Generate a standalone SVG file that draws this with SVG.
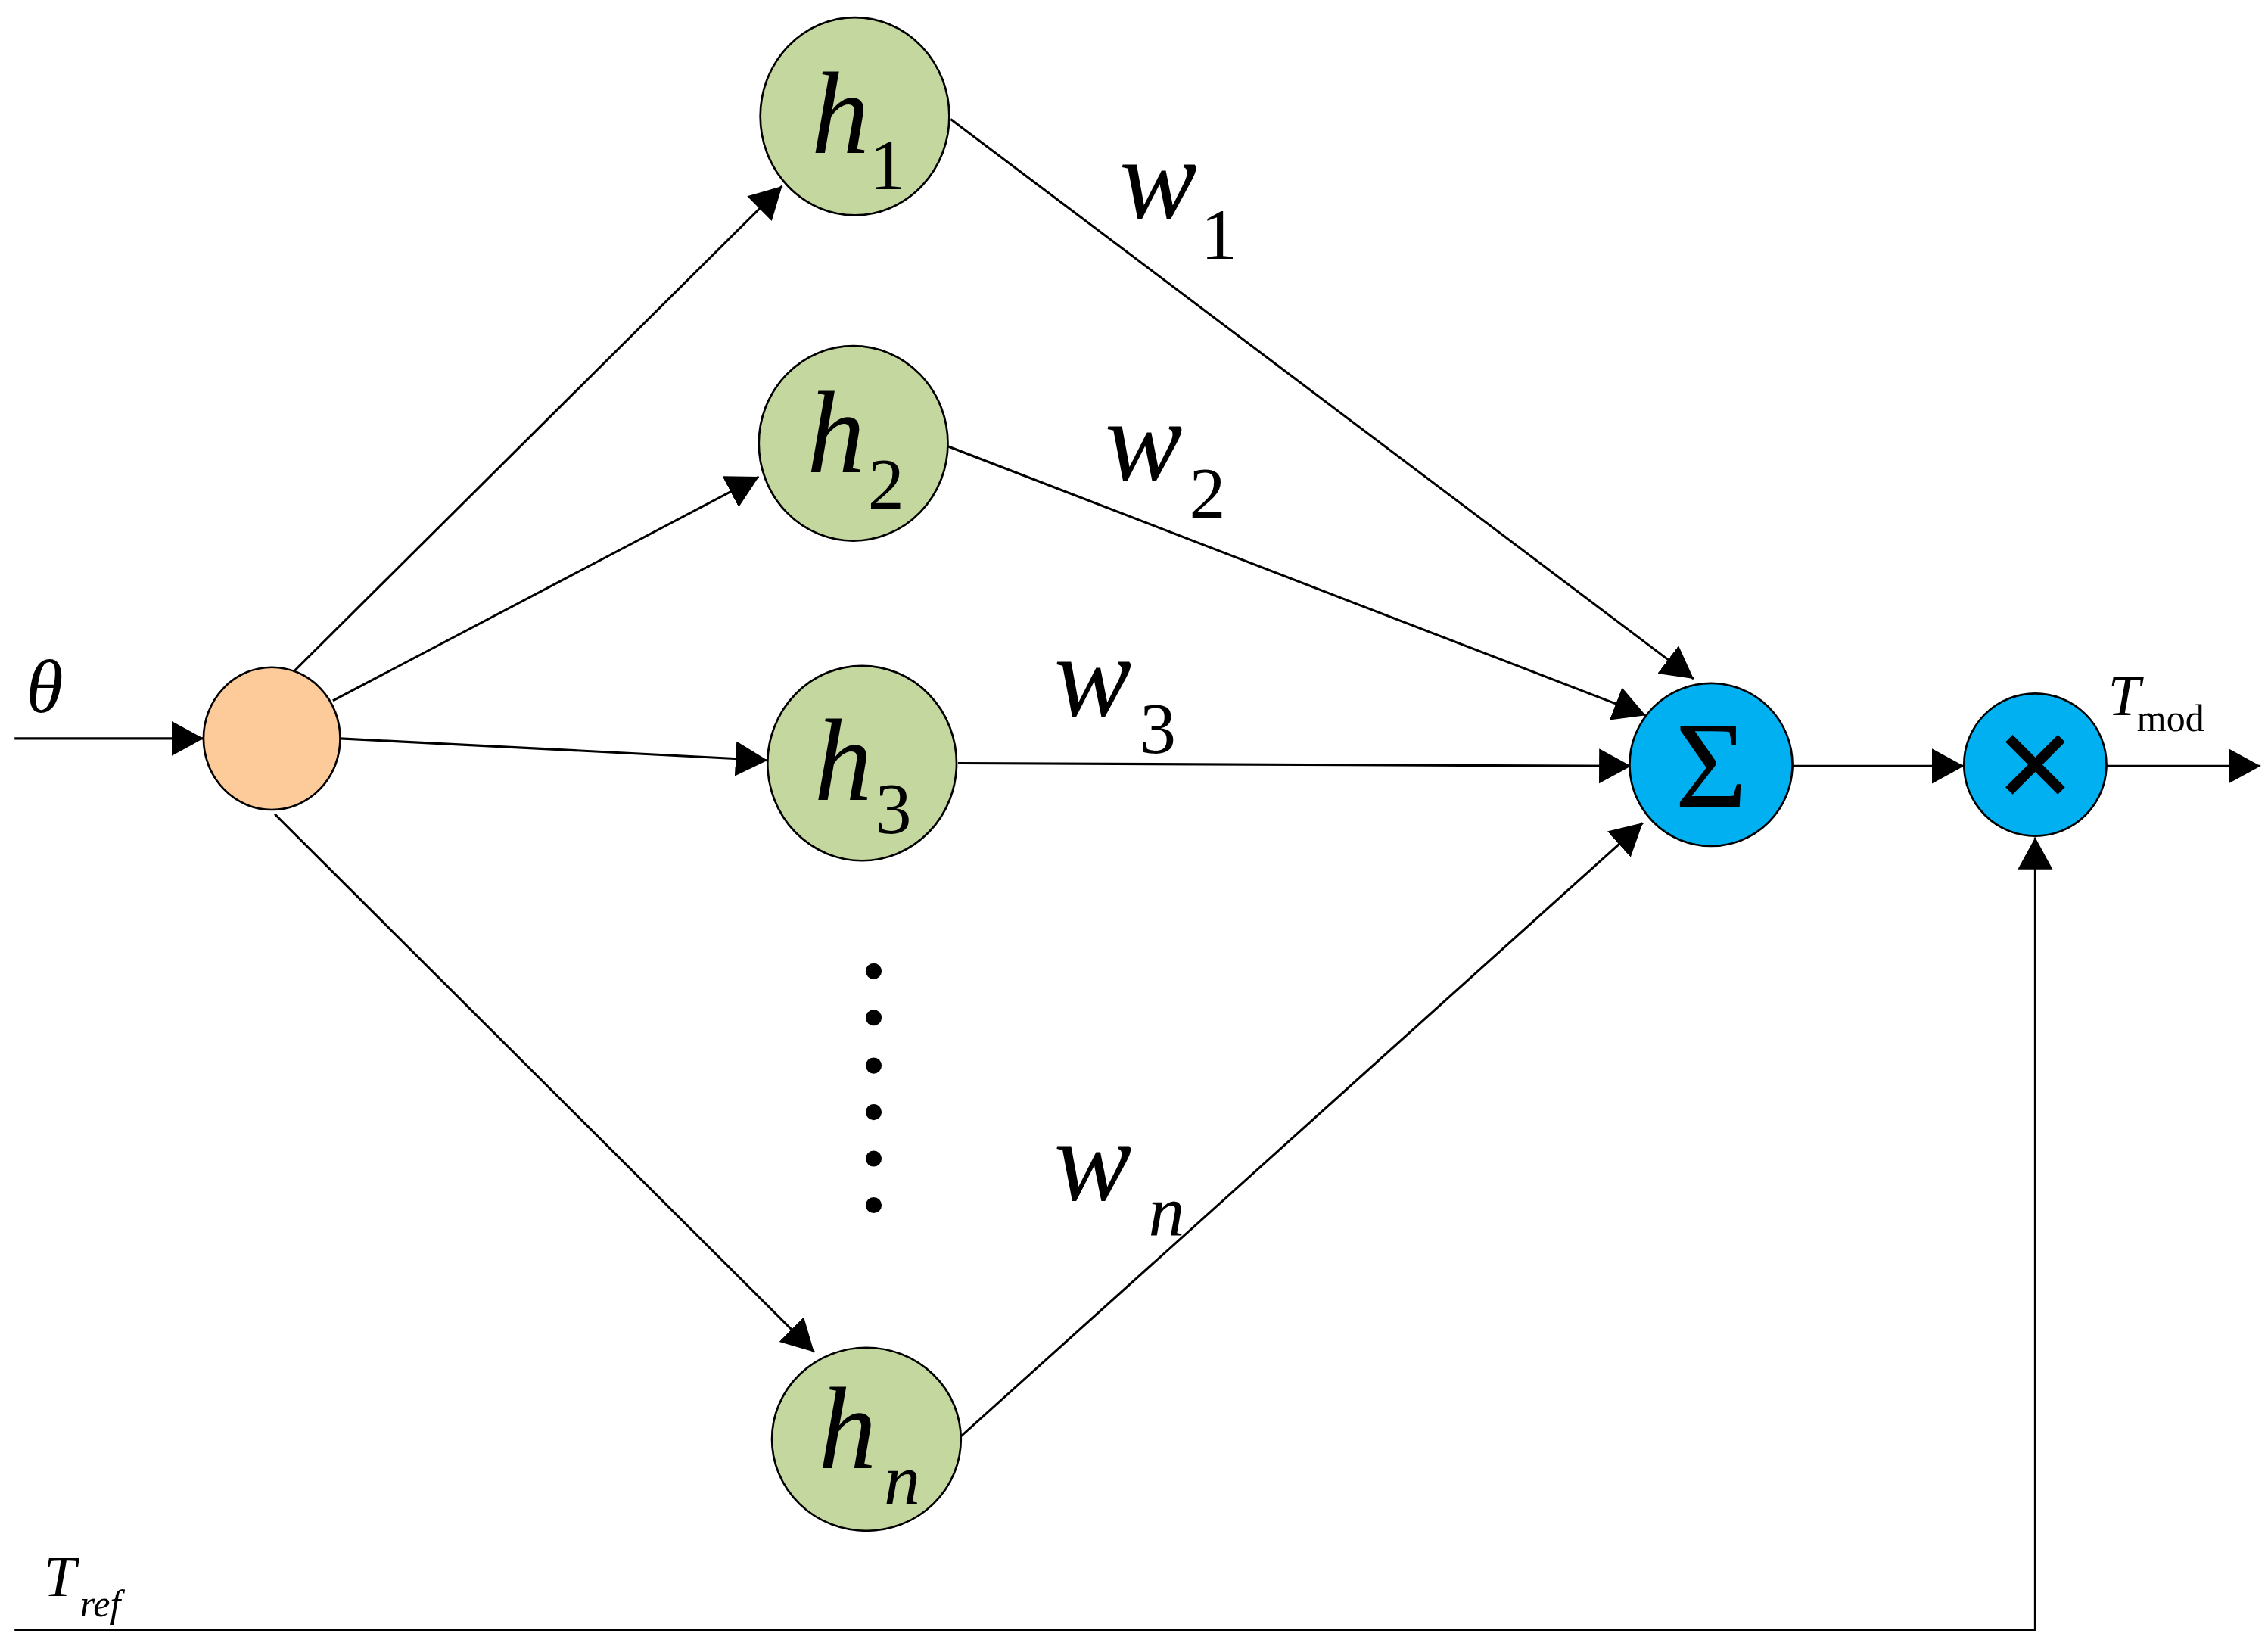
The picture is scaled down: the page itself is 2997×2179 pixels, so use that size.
<svg xmlns="http://www.w3.org/2000/svg" width="2997" height="2179" viewBox="0 0 2997 2179">
<defs>
<marker id="a" markerUnits="userSpaceOnUse" markerWidth="24" markerHeight="26" refX="22" refY="12" orient="auto"><path d="M0,0 L22,12 L0,24 Z" fill="#000"/></marker>
<style>
.ln{stroke:#000;stroke-width:1.6;fill:none}
.n{stroke:#000;stroke-width:1.4}
.t{font-family:"Liberation Serif",serif;font-style:italic;fill:#000}
.s{font-family:"Liberation Serif",serif;fill:#000}
</style>
</defs>
<rect width="2997" height="2179" fill="#fff"/>
<g transform="scale(1.921)">
<g id="connectors">
<line class="ln" x1="10" y1="508" x2="140" y2="508" marker-end="url(#a)"/>
<line class="ln" x1="202" y1="462" x2="538" y2="128" marker-end="url(#a)"/>
<line class="ln" x1="229" y1="482" x2="522" y2="328" marker-end="url(#a)"/>
<line class="ln" x1="234" y1="508" x2="528" y2="523" marker-end="url(#a)"/>
<line class="ln" x1="189" y1="560" x2="560" y2="930" marker-end="url(#a)"/>
<line class="ln" x1="654" y1="82" x2="1165" y2="467" marker-end="url(#a)"/>
<line class="ln" x1="652" y1="307" x2="1132" y2="492" marker-end="url(#a)"/>
<line class="ln" x1="659" y1="525" x2="1122" y2="527" marker-end="url(#a)"/>
<line class="ln" x1="661" y1="988" x2="1130" y2="566" marker-end="url(#a)"/>
<line class="ln" x1="1233" y1="527" x2="1351" y2="527" marker-end="url(#a)"/>
<line class="ln" x1="1449" y1="527" x2="1555" y2="527" marker-end="url(#a)"/>
<polyline class="ln" points="10,1121 1400,1121 1400,576" marker-end="url(#a)"/>
</g>
<g id="input"><ellipse class="n" cx="187" cy="508" rx="47" ry="49" fill="#FDCB9A"/></g>
<g id="h1"><ellipse class="n" cx="588" cy="80" rx="65" ry="68" fill="#C4D79F"/><text class="t" x="558" y="105" font-size="80">h</text><text class="s" x="598" y="130" font-size="50">1</text></g>
<g id="h2"><ellipse class="n" cx="587" cy="305" rx="65" ry="67" fill="#C4D79F"/><text class="t" x="555" y="325" font-size="80">h</text><text class="s" x="597" y="350" font-size="50">2</text></g>
<g id="h3"><ellipse class="n" cx="593" cy="525" rx="65" ry="67" fill="#C4D79F"/><text class="t" x="560" y="550" font-size="80">h</text><text class="s" x="602" y="573" font-size="50">3</text></g>
<g id="hn"><ellipse class="n" cx="596" cy="990" rx="65" ry="63" fill="#C4D79F"/><text class="t" x="563" y="1010" font-size="80">h</text><text class="t" x="608" y="1035" font-size="50">n</text></g>
<g id="sum"><ellipse class="n" cx="1177" cy="526" rx="56" ry="56" fill="#00B0F0"/><text class="s" x="1177" y="555" font-size="85" text-anchor="middle">Σ</text></g>
<g id="mult"><ellipse class="n" cx="1400" cy="526" rx="49" ry="49" fill="#00B0F0"/><path d="M1382,508 L1418,544 M1418,508 L1382,544" stroke="#000" stroke-width="7"/></g>
<g id="labels">
<text class="t" x="18" y="490" font-size="52">θ</text>
<text class="t" x="770" y="150" font-size="80">w</text><text class="s" x="826" y="178" font-size="50">1</text>
<text class="t" x="760" y="330" font-size="80">w</text><text class="s" x="818" y="356" font-size="50">2</text>
<text class="t" x="725" y="492" font-size="80">w</text><text class="s" x="784" y="518" font-size="50">3</text>
<text class="t" x="725" y="825" font-size="80">w</text><text class="t" x="790" y="850" font-size="50">n</text>
<text class="t" x="1450" y="492" font-size="40">T</text><text class="s" x="1470" y="503" font-size="26">mod</text>
<text class="t" x="30" y="1098" font-size="40">T</text><text class="t" x="55" y="1112" font-size="26">ref</text>
<g fill="#000"><circle cx="601" cy="668" r="5.5"/><circle cx="601" cy="700" r="5.5"/><circle cx="601" cy="733" r="5.5"/><circle cx="601" cy="765" r="5.5"/><circle cx="601" cy="797" r="5.5"/><circle cx="601" cy="829" r="5.5"/></g>
</g>
</g>
</svg>
